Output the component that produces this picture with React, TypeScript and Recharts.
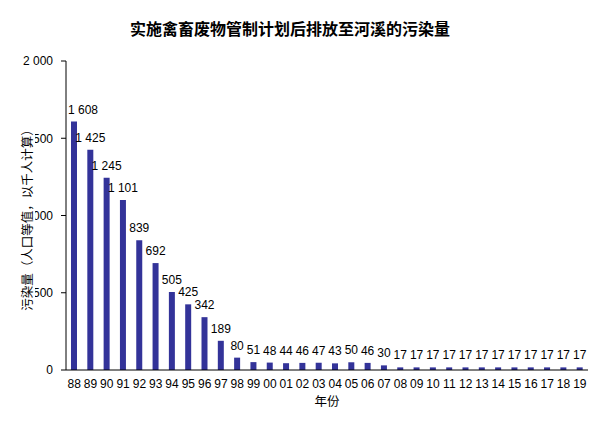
import React from "react"
import { BarChart, Bar, XAxis, YAxis, LabelList, Label } from "recharts"

const years = [
  "88", "89", "90", "91", "92", "93", "94", "95", "96", "97", "98", "99",
  "00", "01", "02", "03", "04", "05", "06", "07", "08", "09", "10", "11",
  "12", "13", "14", "15", "16", "17", "18", "19",
]

const pollution = [
  1608, 1425, 1245, 1101, 839, 692, 505, 425, 342, 189, 80, 51,
  48, 44, 46, 47, 43, 50, 46, 30, 17, 17, 17, 17,
  17, 17, 17, 17, 17, 17, 17, 17,
]

const yTicks = [0, 500, 1000, 1500, 2000]

const FONT = "'Liberation Sans', Arial, 'Noto Sans CJK SC', sans-serif"
const BAR_COLOR = "#333399"

const data = years.map((year, i) => ({ year, value: pollution[i] }))

// thousands with a space, e.g. 1 608
const fmt = (v: number) => {
  const s = String(v)
  return s.length > 3 ? s.slice(0, s.length - 3) + " " + s.slice(-3) : s
}

function ValueLabel(props: any) {
  const { x, y, width, value, index } = props
  const shift = index === 0 ? 9 : 0
  return (
    <text
      x={x + width / 2 + shift}
      y={y - 8}
      textAnchor="middle"
      fontSize={12}
      fontFamily={FONT}
      fill="#000"
    >
      {fmt(value)}
    </text>
  )
}

export default function App() {
  return (
    <div style={{ position: "absolute", left: 0, top: 0, width: 598, height: 431, background: "#fff" }}>
      <div
        style={{
          position: "absolute",
          left: 0,
          top: 16,
          width: 580,
          textAlign: "center",
          fontFamily: FONT,
          fontWeight: "bold",
          fontSize: 16,
        }}
      >
        实施禽畜废物管制计划后排放至河溪的污染量
      </div>
      <BarChart
        width={598}
        height={431}
        data={data}
        margin={{ top: 61, right: 10, bottom: 25, left: 0 }}
        barSize={6}
      >
        <XAxis
          dataKey="year"
          interval={0}
          height={36}
          tickLine={false}
          tickSize={0}
          tickMargin={9}
          stroke="#000"
          tick={{ fill: "#000", fontSize: 12, fontFamily: FONT }}
        >
          <Label value="年份" position="insideBottom" offset={0} fontSize={12.5} fontFamily={FONT} fill="#000" />
        </XAxis>
        <YAxis
          width={66}
          domain={[0, 2000]}
          ticks={yTicks}
          tickFormatter={fmt}
          tickSize={5}
          tickMargin={8}
          stroke="#000"
          tick={{ fill: "#000", fontSize: 12, fontFamily: FONT }}
        />
        <Bar dataKey="value" fill={BAR_COLOR} isAnimationActive={false}>
          <LabelList dataKey="value" content={<ValueLabel />} />
        </Bar>
      </BarChart>
      <div
        style={{
          position: "absolute",
          left: 28,
          top: 217,
          transform: "translate(-50%, -50%) rotate(-90deg)",
          whiteSpace: "nowrap",
          background: "#fff",
          fontFamily: FONT,
          fontSize: 12.5,
          lineHeight: "14px",
        }}
      >
        污染量（人口等值，以千人计算）
      </div>
    </div>
  )
}
